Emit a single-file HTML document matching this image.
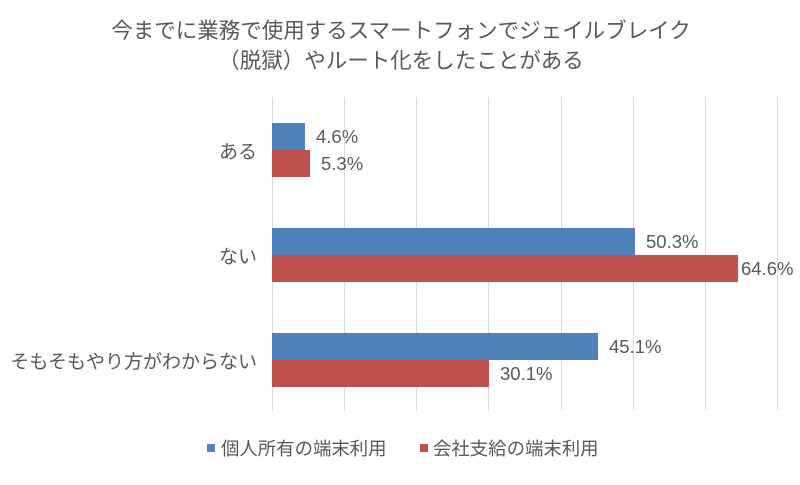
<!DOCTYPE html>
<html><head><meta charset="utf-8"><style>
body{margin:0;background:#fff}
text{font-family:"Liberation Sans","Noto Sans CJK JP",sans-serif;fill:#595959}
</style></head><body>
<svg width="800" height="480" xmlns="http://www.w3.org/2000/svg">
<rect width="800" height="480" fill="#fff"/>
<text x="401" y="38" font-size="21.5" text-anchor="middle">今までに業務で使用するスマートフォンでジェイルブレイク</text>
<text x="401" y="68" font-size="21.5" text-anchor="middle">（脱獄）やルート化をしたことがある</text>
<g stroke="#d9d9d9" stroke-width="1">
<line x1="272.5" y1="97" x2="272.5" y2="411"/>
<line x1="344.5" y1="97" x2="344.5" y2="411"/>
<line x1="416.5" y1="97" x2="416.5" y2="411"/>
<line x1="488.5" y1="97" x2="488.5" y2="411"/>
<line x1="561.5" y1="97" x2="561.5" y2="411"/>
<line x1="633.5" y1="97" x2="633.5" y2="411"/>
<line x1="705.5" y1="97" x2="705.5" y2="411"/>
<line x1="777.5" y1="97" x2="777.5" y2="411"/>
</g>
<g fill="#4f81bd">
<rect x="272" y="123" width="33" height="27"/>
<rect x="272" y="228" width="363" height="27"/>
<rect x="272" y="333" width="326" height="27"/>
</g>
<g fill="#c0504d">
<rect x="272" y="150" width="38" height="27"/>
<rect x="272" y="255" width="466" height="27"/>
<rect x="272" y="360" width="217" height="27"/>
</g>
<g font-size="18.5">
<text x="316" y="143">4.6%</text>
<text x="321" y="170">5.3%</text>
<text x="646" y="248">50.3%</text>
<text x="741" y="275">64.6%</text>
<text x="609" y="353">45.1%</text>
<text x="500" y="380">30.1%</text>
</g>
<g font-size="19">
<text x="257" y="158" text-anchor="end">ある</text>
<text x="257" y="263" text-anchor="end">ない</text>
<text x="257" y="368" text-anchor="end">そもそもやり方がわからない</text>
</g>
<g font-size="18.4">
<rect x="207" y="444" width="8" height="8" fill="#4f81bd"/>
<text x="221" y="455">個人所有の端末利用</text>
<rect x="420" y="444" width="8" height="8" fill="#c0504d"/>
<text x="433" y="455">会社支給の端末利用</text>
</g>
</svg>
</body></html>
